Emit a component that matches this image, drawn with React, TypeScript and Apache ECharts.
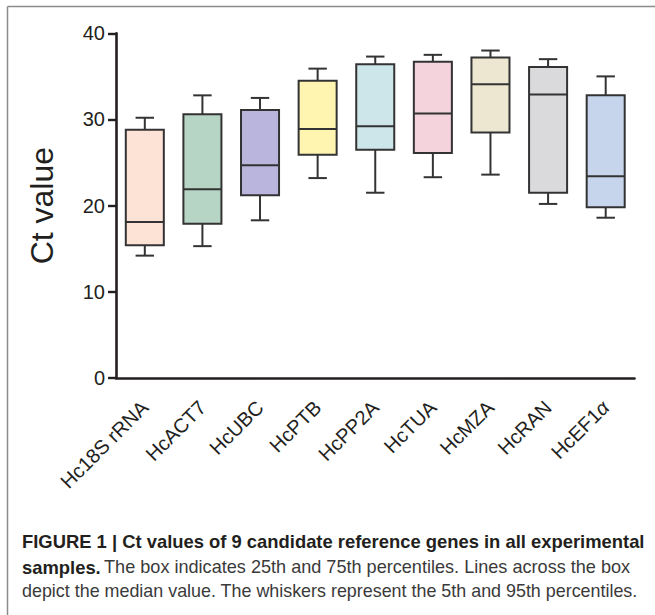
import React, { useEffect, useRef } from "react";
import * as echarts from "echarts";

const categories = ["Hc18S rRNA", "HcACT7", "HcUBC", "HcPTB", "HcPP2A", "HcTUA", "HcMZA", "HcRAN", "HcEF1α"];
const whiskerLow = [14.2, 15.3, 18.3, 23.2, 21.5, 23.3, 23.6, 20.2, 18.6];
const q1 = [15.4, 17.9, 21.2, 25.9, 26.5, 26.1, 28.5, 21.5, 19.8];
const median = [18.1, 21.9, 24.7, 28.9, 29.2, 30.7, 34.1, 32.9, 23.4];
const q3 = [28.8, 30.6, 31.1, 34.5, 36.4, 36.7, 37.2, 36.1, 32.8];
const whiskerHigh = [30.2, 32.8, 32.5, 35.9, 37.3, 37.5, 38.0, 37.0, 35.0];
const boxColors = ["#fde2d6", "#b7d5c4", "#b9b5dc", "#fff5b0", "#cce6ea", "#f4d3dc", "#ede7d2", "#dadadc", "#c6d5ec"];

const yAxisName = "Ct value";
const captionLine1 = "FIGURE 1 | Ct values of 9 candidate reference genes in all experimental";
const captionLine2Bold = "samples.";
const captionLine2 = "The box indicates 25th and 75th percentiles. Lines across the box";
const captionLine3 = "depict the median value. The whiskers represent the 5th and 95th percentiles.";

const FONT = "'Liberation Sans', Arial, Helvetica, sans-serif";
const INK = "#231f20";

export default function App() {
  const ref = useRef<HTMLDivElement>(null);
  useEffect(() => {
    if (!ref.current) return;
    const chart = echarts.init(ref.current, undefined, { renderer: "svg" });
    const data = categories.map((_, i) => [i, whiskerLow[i], q1[i], median[i], q3[i], whiskerHigh[i]]);
    const option: any = {
      animation: false,
      backgroundColor: "#ffffff",
      grid: { left: 116, right: 20.5, top: 33.3, bottom: 237 },
      xAxis: {
        type: "category",
        data: categories,
        boundaryGap: true,
        axisLine: { lineStyle: { color: INK, width: 2.6 } },
        axisTick: { alignWithLabel: true, length: 8, lineStyle: { color: INK, width: 2.4 } },
        axisLabel: {
          rotate: 45,
          margin: 26,
          fontSize: 20,
          color: INK,
          fontFamily: FONT,
          interval: 0,
          formatter: (v: string) => (v.endsWith("α") ? "{n|" + v.slice(0, -1) + "}{a|α}" : v),
          rich: {
            n: { fontSize: 20, color: INK, fontFamily: FONT },
            a: { fontSize: 20, color: INK, fontFamily: FONT, fontStyle: "italic" },
          },
        },
        splitLine: { show: false },
      },
      yAxis: {
        type: "value",
        min: 0,
        max: 40,
        interval: 10,
        name: yAxisName,
        nameLocation: "middle",
        nameRotate: 90,
        nameGap: 58,
        nameTextStyle: { fontSize: 32, color: INK, fontFamily: FONT },
        axisLine: { show: true, lineStyle: { color: INK, width: 2.6 } },
        axisTick: { show: true, length: 8, lineStyle: { color: INK, width: 2.4 } },
        axisLabel: { fontSize: 20, color: INK, fontFamily: FONT, margin: 11 },
        splitLine: { show: false },
      },
      series: [
        {
          type: "custom",
          data,
          encode: { x: 0, y: [1, 2, 3, 4, 5] },
          renderItem: (params: any, api: any) => {
            const i = api.value(0);
            const lo = api.coord([i, api.value(1)]);
            const b1 = api.coord([i, api.value(2)]);
            const md = api.coord([i, api.value(3)]);
            const b3 = api.coord([i, api.value(4)]);
            const hi = api.coord([i, api.value(5)]);
            const band = api.size([1, 0])[0];
            const hw = band * 0.33;
            const cw = band * 0.16;
            const x = lo[0];
            const ls = { stroke: "#333333", lineWidth: 2 };
            return {
              type: "group",
              children: [
                { type: "line", shape: { x1: x, y1: b3[1], x2: x, y2: hi[1] }, style: ls },
                { type: "line", shape: { x1: x - cw, y1: hi[1], x2: x + cw, y2: hi[1] }, style: ls },
                { type: "line", shape: { x1: x, y1: b1[1], x2: x, y2: lo[1] }, style: ls },
                { type: "line", shape: { x1: x - cw, y1: lo[1], x2: x + cw, y2: lo[1] }, style: ls },
                {
                  type: "rect",
                  shape: { x: x - hw, y: b3[1], width: 2 * hw, height: b1[1] - b3[1] },
                  style: { fill: boxColors[params.dataIndex], stroke: "#333333", lineWidth: 2 },
                },
                { type: "line", shape: { x1: x - hw, y1: md[1], x2: x + hw, y2: md[1] }, style: ls },
              ],
            };
          },
        },
      ],
      graphic: [
        { type: "line", shape: { x1: 7.5, y1: 6.5, x2: 655, y2: 6.5 }, style: { stroke: "#8c8c8c", lineWidth: 1.5 } },
        { type: "line", shape: { x1: 7.5, y1: 6.5, x2: 7.5, y2: 615 }, style: { stroke: "#8c8c8c", lineWidth: 1.5 } },
        {
          type: "text",
          x: 22,
          y: 541,
          style: { text: captionLine1, font: `bold 18.4px ${FONT}`, fill: INK, verticalAlign: "middle" },
        },
        {
          type: "text",
          x: 22,
          y: 567,
          style: {
            text: "{b|" + captionLine2Bold + "} {r|" + captionLine2 + "}",
            verticalAlign: "middle",
            rich: {
              b: { font: `bold 18.4px ${FONT}`, fill: INK },
              r: { font: `18.1px ${FONT}`, fill: "#3a3a3a" },
            },
          },
        },
        {
          type: "text",
          x: 22,
          y: 591,
          style: { text: captionLine3, font: `17.9px ${FONT}`, fill: "#3a3a3a", verticalAlign: "middle" },
        },
      ],
    };
    chart.setOption(option);
    return () => chart.dispose();
  }, []);
  return <div ref={ref} style={{ position: "fixed", left: 0, top: 0, width: 655, height: 615 }} />;
}
